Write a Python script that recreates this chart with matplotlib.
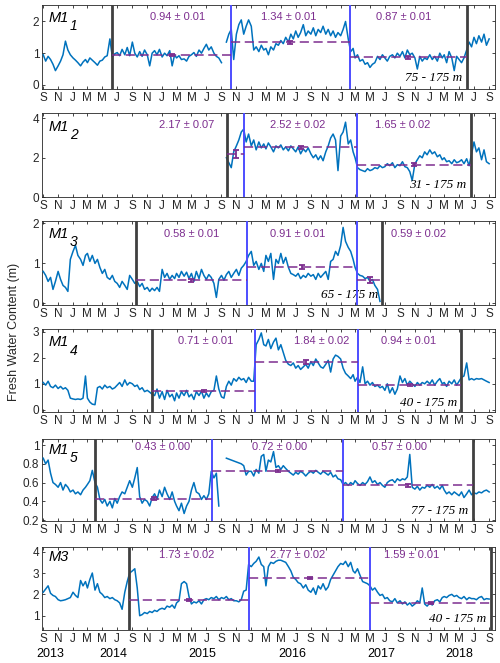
import numpy as np
import pandas as pd
import matplotlib
matplotlib.use('Agg')
import matplotlib.pyplot as plt
import matplotlib.dates as mdates

plt.rcParams['font.family'] = ['Liberation Sans', 'DejaVu Sans']

# --------------------------- Data ---------------------------- #
# three readings per month (day 1, 11, 21), Sep 2013 - Sep 2018
months = pd.date_range('2013-09-01', '2018-09-01', freq='MS')
dates = [m + pd.Timedelta(days=d) for m in months for d in (0, 10, 20)]
nan = np.nan

fwc_m1_1 = [
    0.95, 0.75, 0.9, 0.8, 0.65, 0.45, 0.6, 0.75, 0.95, 1.38, 1.1, 0.95,
    0.85, 0.78, 0.7, 0.6, 0.72, 0.8, 0.7, 0.85, 0.78, 0.7, 0.62, 0.75,
    0.78, 0.88, 0.92, 1.45, 0.88, 0.98, 1.02, 0.92, 1.12, 0.95, 1.18, 0.92,
    1.35, 1.0, 0.88, 1.05, 0.9, 1.1, 0.95, 0.6, 1.0, 1.08, 0.95, 1.12,
    0.88, 1.0, 0.92, 1.08, 0.6, 0.95, 0.85, 0.92, 0.8, 0.82, 0.75, 0.9,
    0.95, 1.02, 0.9, 1.1, 1.0, 1.15, 1.28, 1.1, 1.2, 1.0, 0.9, 0.85,
    0.7, nan, 1.35, 1.6, 1.75, 0.8, 1.6, 1.9, 2.05, 1.6, 1.85, 2.05,
    1.85, 1.1, 1.2, 1.05, 1.25, 1.1, 1.15, 0.95, 1.2, 1.1, 1.3, 1.25,
    1.4, 1.3, 1.5, 1.35, 1.6, 1.45, 1.7, 1.5, 1.65, 1.9, 1.55, 1.7,
    1.6, 1.8, 1.55, 1.75, 1.65, 1.85, 1.6, 1.75, 1.55, 1.7, 1.5, 1.65,
    1.55, 1.75, 2.0, 1.45, 1.05, 1.15, 0.85, 0.95, 0.75, 0.8, 0.65, 0.7,
    0.55, 0.65, 0.7, 0.9, 0.8, 0.95, 0.85, 0.75, 0.9, 0.95, 0.85, 1.0,
    0.9, 1.05, 0.85, 1.1, 0.95, 1.0, 0.85, 0.5, 0.9, 0.75, 0.85, 0.8,
    0.95, 0.8, 0.9, 0.75, 1.0, 0.85, 0.95, 0.7, 1.05, 0.85, 0.45, 0.9,
    0.8, 0.7, 0.85, 1.1, 1.35, 1.2, 1.5, 1.3, 1.55, 1.35, 1.6, 1.25,
    1.45, nan, nan]

fwc_m1_2 = [nan] * 72 + [
    nan, nan, 2.0, 1.75, 1.5, 2.3, 2.6, 2.9, 3.3, 3.45, 2.8, 3.2,
    2.6, 2.9, 2.4, 2.8, 2.5, 2.7, 2.45, 2.75, 2.55, 2.3, 2.6, 2.5,
    2.65, 2.4, 2.55, 2.35, 2.6, 2.45, 2.3, 2.55, 2.2, 2.45, 2.3, 2.5,
    2.2, 2.0, 2.15, 1.9, 2.1, 1.85, 2.3, 2.6, 3.0, 3.2, 2.9, 1.35,
    3.1, 3.3, 3.8, 2.7, 2.9, 2.3, 2.0, 1.5, 1.4, 1.35, 1.3, 1.45,
    1.35, 1.4, 1.5, 1.45, 1.6, 1.5, 1.55, 1.7, 1.6, 1.75, 1.5, 1.65,
    1.6, 1.8, 1.55, 1.5, 1.3, 0.85, 1.7, 1.9, 2.1, 2.0, 2.3, 2.15,
    2.4, 2.2, 2.3, 2.05, 2.15, 1.9, 2.0, 1.8, 1.85, 1.7, 1.9, 1.75,
    1.8, 1.9, 1.7, 1.95, 1.6, 2.2, 2.8, 2.3, 2.5, 1.9, 2.4, 1.8,
    1.7, nan, nan]

fwc_m1_3 = [
    0.8, 0.7, 0.55, 0.65, 0.35, 0.55, 0.8, 0.6, 0.45, 0.4, 0.3, 1.1,
    1.3, 1.45, 1.2, 1.1, 0.95, 1.2, 1.25, 1.05, 1.2, 1.0, 1.1, 0.9,
    0.75, 0.85, 0.65, 0.6, 0.7, 0.55, 0.5, 0.4, 0.55, 0.45, 0.35, 0.7,
    0.6, 0.5, 0.55, 0.42, 0.5, 0.35, 0.4, 0.3, 0.38, 0.32, 0.4, 0.3,
    0.85, 0.65, 0.75, 0.6, 0.7, 0.62, 0.75, 0.65, 0.8, 0.68, 0.78, 0.62,
    0.75, 0.55, 0.8, 0.62, 0.85, 0.7, 0.6, 0.72, 0.65, 0.5, 0.15, 0.6,
    0.7, 0.58, 0.72, 0.8, 0.65, 0.75, 0.85, 0.7, 0.88, 0.95, 1.05, 1.2,
    1.3, 0.95, 1.05, 0.85, 1.0, 0.8, 1.2, 1.05, 1.25, 0.6, 1.1, 1.0,
    1.25, 1.0, 1.15, 0.9, 0.75, 0.72, 0.68, 0.75, 0.62, 0.7, 0.65, 0.75,
    0.68, 0.72, 0.6, 0.75, 0.65, 0.72, 0.8, 0.6, 1.05, 1.1, 1.3, 1.2,
    1.45, 1.9, 1.55, 1.4, 1.3, 1.1, 0.9, 0.75, 0.7, 0.68, 0.62, 0.65,
    0.55, 0.6, 0.45, 0.35, 0.05] + [nan] * 46

fwc_m1_4 = [
    1.05, 0.95, 1.1, 0.9, 0.85, 0.95, 0.82, 0.9, 0.8, 0.85, 0.75, 0.45,
    0.42, 0.4, 0.42, 0.4, 0.45, 1.3, 0.45, 0.3, 0.22, 0.2, 0.85, 0.9,
    0.8, 0.95, 0.85, 0.9, 0.8, 0.85, 0.95, 1.05, 0.9, 1.15, 0.95, 1.05,
    1.0, 0.9, 0.95, 0.78, 0.85, 0.7, 0.75, 0.68, 0.6, 0.55, 0.8, 0.45,
    0.7, 0.4, 0.75, 0.5, 0.6, 0.35, 0.65, 0.45, 0.7, 0.55, 0.75, 0.5,
    0.6, 0.4, 0.7, 0.55, 0.72, 0.45, 0.65, 0.5, 0.7, 0.75, 1.3, 0.8,
    0.5, 0.45, 0.9, 1.1, 0.95, 1.2, 1.1, 1.25, 1.15, 1.2, 1.05, 1.25,
    1.1, 1.1, 2.5, 2.7, 2.95, 2.5, 2.45, 2.7, 2.35, 2.6, 2.75, 2.3,
    2.5, 2.2, 1.9, 1.75, 1.7, 1.8, 1.6, 1.7, 1.55, 1.65, 1.75, 1.6,
    1.85, 1.7, 1.95, 1.8, 1.65, 1.6, 1.75, 1.9, 1.45, 1.95, 2.1, 2.05,
    1.95, 1.6, 1.4, 1.3, 1.2, 1.35, 1.1, 1.25, 1.05, 1.65, 1.0, 1.1,
    0.95, 1.05, 0.9, 0.95, 0.85, 0.9, 0.75, 1.0, 0.65, 0.85, 0.6, 0.8,
    1.3, 1.05, 1.2, 0.95, 1.1, 1.0, 0.9, 1.05, 0.95, 1.05, 1.0, 1.1,
    1.0, 1.15, 0.95, 1.1, 1.2, 1.0, 1.05, 0.9, 1.1, 1.0, 1.15, 0.95,
    1.1, 1.25, 1.3, 1.8, 1.15, 1.2, 1.15, 1.2, 1.18, 1.2, 1.15, 1.1,
    1.05, nan, nan]

fwc_m1_5 = [
    0.86, 0.8, 0.84, 0.7, 0.6, 0.58, 0.55, 0.6, 0.52, 0.58, 0.55, 0.5,
    0.52, 0.48, 0.5, 0.47, 0.52, 0.55, 0.58, 0.62, 0.73, 0.6, 0.55, 0.42,
    0.38, 0.42, 0.35, 0.4, 0.33, 0.43, 0.38, 0.45, 0.5, 0.48, 0.55, 0.62,
    0.55, 0.65, 0.76, 0.45, 0.38, 0.42, 0.4, 0.35, 0.44, 0.48, 0.42, 0.52,
    0.45, 0.55, 0.48, 0.42, 0.5, 0.4, 0.35, 0.3, 0.38, 0.27, 0.35, 0.4,
    0.52, 0.6, 0.5, 0.48, 0.42, 0.46, 0.42, 0.48, 0.72, 0.65, 0.7, 0.35,
    nan, nan, 0.86, 0.85, 0.84, 0.83, 0.82, 0.81, 0.8, 0.78, 0.68, 0.72,
    0.72, 0.67, 0.74, 0.7, 0.88, 0.9, 0.72, 0.84, 0.82, 0.93, 0.76, 0.78,
    0.74, 0.78, 0.75, 0.72, 0.7, 0.68, 0.71, 0.69, 0.72, 0.7, 0.67, 0.7,
    0.72, 0.7, 0.73, 0.71, 0.69, 0.72, 0.7, 0.68, 0.71, 0.66, 0.68, 0.64,
    0.63, 0.58, 0.6, 0.57, 0.6, 0.58, 0.62, 0.59, 0.57, 0.6, 0.58, 0.61,
    0.66, 0.6, 0.62, 0.58, 0.6, 0.57, 0.55, 0.6, 0.62, 0.63, 0.6, 0.64,
    0.62, 0.64, 0.63, 0.66, 0.9, 0.55, 0.53, 0.56, 0.52, 0.55, 0.54, 0.57,
    0.55, 0.58, 0.54, 0.56, 0.53, 0.57, 0.52, 0.48, 0.5, 0.47, 0.5, 0.48,
    0.46, 0.5, 0.44, 0.48, 0.52, 0.47, 0.49, 0.48, 0.5, 0.49, 0.51, 0.52,
    0.5, nan, nan]

fwc_m3 = [
    2.1, 2.25, 2.4, 2.05, 1.95, 1.9, 1.75, 1.7, 1.72, 1.75, 1.8, 1.85,
    2.1, 1.95, 1.85, 2.65, 2.4, 2.6, 2.3, 2.7, 3.0, 2.2, 2.5, 2.1,
    2.0, 1.85, 1.9, 1.8, 1.85, 1.75, 1.7, 1.6, 1.3, 2.1, 2.6, 3.0,
    3.1, 3.2, 2.3, 1.0, 1.05, 1.15, 1.1, 1.2, 1.15, 1.25, 1.2, 1.3,
    1.35, 1.3, 1.45, 1.4, 1.5, 1.35, 1.6, 1.7, 2.5, 2.6, 2.5, 1.9,
    1.55, 1.65, 1.6, 1.7, 1.55, 1.75, 1.8, 1.75, 1.85, 1.8, 1.9, 1.75,
    1.85, 1.8, 1.9, 1.75, 1.8, 1.7, 1.7, 1.65, 1.75, 2.15, 2.2, 3.4,
    3.3, 3.45, 3.55, 3.75, 3.4, 3.3, 2.4, 3.3, 3.5, 3.45, 3.55, 3.6,
    3.6, 3.55, 3.5, 3.3, 3.1, 2.8, 2.7, 2.55, 2.5, 2.3, 2.45, 2.2,
    2.1, 2.3, 2.0, 2.4, 2.25, 2.5, 2.2, 2.35, 2.7, 2.9, 3.1, 3.3,
    3.45, 3.4, 3.55, 3.3, 3.5, 3.1, 3.0, 3.2, 2.9, 2.6, 2.55, 2.5,
    2.4, 2.2, 2.3, 2.1, 1.95, 2.0, 1.8, 1.85, 1.7, 1.65, 1.8, 1.6,
    1.7, 1.55, 1.65, 1.5, 1.6, 1.45, 1.55, 1.7, 1.6, 2.3, 1.55, 1.45,
    1.6, 1.5, 1.7, 1.75, 1.65, 1.85, 1.9, 1.85, 1.95, 2.0, 1.9, 1.95,
    1.85, 1.8, 1.9, 1.75, 1.85, 1.8, 1.8, 1.75, 1.85, 1.9, 1.75, 1.8,
    1.78, nan, nan]

series = [fwc_m1_1, fwc_m1_2, fwc_m1_3, fwc_m1_4, fwc_m1_5, fwc_m3]
names = ['M1', 'M1', 'M1', 'M1', 'M1', 'M3']
subs = ['1', '2', '3', '4', '5', '']
depths = ['75 - 175', '31 - 175', '65 - 175', '40 - 175', '77 - 175', '40 - 175']

# regime boundaries: black, blue, blue, black
bounds = [
    ['2014-06-10', '2015-10-10', '2017-02-07', '2018-06-01'],
    ['2015-09-22', '2015-12-04', '2017-03-10', '2018-06-18'],
    ['2014-09-15', '2015-12-15', '2017-03-10', '2017-06-20'],
    ['2014-11-22', '2016-01-15', '2017-03-12', '2018-05-10'],
    ['2014-04-01', '2015-07-26', '2017-01-10', '2018-06-25'],
    ['2014-08-20', '2015-12-22', '2017-05-03', '2018-09-07'],
]
means = [[0.94, 1.34, 0.87], [2.17, 2.52, 1.65], [0.58, 0.91, 0.59],
         [0.71, 1.84, 0.94], [0.43, 0.72, 0.57], [1.73, 2.77, 1.59]]
errs = [[0.01, 0.01, 0.01], [0.07, 0.02, 0.02], [0.01, 0.01, 0.02],
        [0.01, 0.02, 0.01], [0.00, 0.00, 0.00], [0.02, 0.02, 0.01]]
# half height of the drawn error bars
bar_half = [[0.04, 0.04, 0.04], [0.2, 0.07, 0.07], [0.04, 0.05, 0.08],
            [0.04, 0.08, 0.04], [0.012, 0.012, 0.012], [0.06, 0.06, 0.06]]
label_dates = [
    ['2015-03-06', '2016-06-01', '2017-09-14'],
    ['2015-04-12', '2016-07-10', '2017-09-10'],
    ['2015-05-02', '2016-07-10', '2017-11-15'],
    ['2015-06-28', '2016-10-17', '2017-10-04'],
    ['2015-01-01', '2016-04-24', '2017-08-28'],
    ['2015-04-12', '2016-07-07', '2017-10-20'],
]
years = ['2013', '2014', '2015', '2016', '2017', '2018']
year_pos = ['2013-10-01', '2014-06-15', '2015-06-15', '2016-06-15', '2017-06-15', '2018-05-01']

# --------------------------- Layout / style ---------------------------- #
ylims = [(-0.13, 2.52), (0, 4.28), (-0.04, 2.06), (-0.08, 3.1), (0.19, 1.07), (0.33, 4.22)]
yticks = [[0, 1, 2], [0, 2, 4], [0, 1, 2], [0, 1, 2, 3], [0.2, 0.4, 0.6, 0.8, 1], [1, 2, 3, 4]]
ytl = [['0', '1', '2'], ['0', '2', '4'], ['0', '1', '2'], ['0', '1', '2', '3'],
       ['0.2', '0.4', '0.6', '0.8', '1'], ['1', '2', '3', '4']]
panel_px = [(5, 89), (112.7, 197.3), (221, 305), (329, 412), (438.5, 521), (547, 630)]
label_y = [0.86, 0.86, 0.845, 0.855, 0.897, 0.904]
name_y = [0.845, 0.83, 0.845, 0.84, 0.86, 0.88]
depth_y = [0.13, 0.145, 0.12, 0.108, 0.12, 0.13]

BLUE = (0, 0.447, 0.741)
PURPLE = (0.49, 0.18, 0.56)
GREY = (0.15, 0.15, 0.15)

W, H = 500, 663
fig = plt.figure(figsize=(W / 100, H / 100), dpi=100)

xlim = (pd.Timestamp('2013-08-27'), pd.Timestamp('2018-09-25'))

def month_letter(x, pos=None):
    return mdates.num2date(x).strftime('%b')[0]

axes = []
for i, (top, bot) in enumerate(panel_px):
    ax = fig.add_axes([42 / W, 1 - bot / H, (495 - 42) / W, (bot - top) / H])
    axes.append(ax)

    ax.plot(dates, series[i], color=BLUE, lw=1.1, zorder=3)

    b = [pd.Timestamp(s) for s in bounds[i]]
    ax.axvline(b[0], color=(0.25, 0.25, 0.25), lw=2.0, zorder=4)
    ax.axvline(b[1], color=(0.3, 0.3, 1.0), lw=1.4, zorder=4)
    ax.axvline(b[2], color=(0.3, 0.3, 1.0), lw=1.4, zorder=4)
    ax.axvline(b[3], color=(0.25, 0.25, 0.25), lw=2.0, zorder=4)

    for k in range(3):
        ax.plot([b[k], b[k + 1]], [means[i][k]] * 2, color=PURPLE, lw=1.1,
                dashes=(6, 3), zorder=5)
        mid = b[k] + (b[k + 1] - b[k]) / 2
        ax.errorbar([mid], [means[i][k]], yerr=[bar_half[i][k]], color=PURPLE,
                    lw=1.3, capsize=2.5, capthick=1.3, zorder=6)
        ax.text(pd.Timestamp(label_dates[i][k]), label_y[i],
                f'{means[i][k]:.2f} \u00b1 {errs[i][k]:.2f}',
                transform=ax.get_xaxis_transform(), color=PURPLE,
                fontsize=8, ha='center', va='center')

    # station name with subscript
    ax.text(0.014, name_y[i], names[i], transform=ax.transAxes, fontsize=10.5,
            style='italic', ha='left', va='center', color='black')
    if subs[i]:
        ax.annotate(subs[i], xy=(0.014, name_y[i]), xycoords='axes fraction',
                    xytext=(15.5, -6), textcoords='offset points', fontsize=10,
                    style='italic', ha='left', va='center')

    ax.annotate(depths[i] + ' m', xy=(b[3], depth_y[i]),
                xycoords=('data', 'axes fraction'), xytext=(-3, 0),
                textcoords='offset points', ha='right', va='center',
                fontsize=9.5, family='Liberation Serif', style='italic')

    ax.set_xlim(xlim)
    ax.set_ylim(ylims[i])
    ax.set_yticks(yticks[i])
    ax.set_yticklabels(ytl[i])
    ax.xaxis.set_major_locator(mdates.MonthLocator(bymonth=[1, 3, 5, 7, 9, 11]))
    ax.xaxis.set_major_formatter(plt.FuncFormatter(month_letter))
    ax.tick_params(direction='in', length=2.5, width=0.6, top=True, right=True,
                   labelsize=8.5, colors=GREY, pad=2)
    for sp in ax.spines.values():
        sp.set_color(GREY)
        sp.set_linewidth(0.6)

for yr, pos in zip(years, year_pos):
    axes[-1].text(pd.Timestamp(pos), -0.29, yr, transform=axes[-1].get_xaxis_transform(),
                  ha='center', va='center', fontsize=9, color='black')

fig.text(14 / W, 0.5, 'Fresh Water Content (m)', rotation=90, ha='center',
         va='center', fontsize=9, color=GREY)

fig.savefig('out.png', dpi=100)
